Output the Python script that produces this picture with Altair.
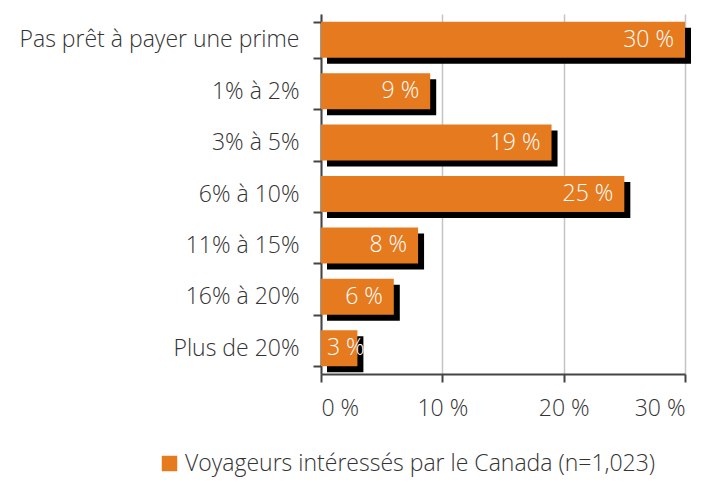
import altair as alt
import pandas as pd

categories = ["Pas prêt à payer une prime", "1% à 2%", "3% à 5%", "6% à 10%",
              "11% à 15%", "16% à 20%", "Plus de 20%"]
values = [30, 9, 19, 25, 8, 6, 3]
labels = ["30 %", "9 %", "19 %", "25 %", "8 %", "6 %", "3 %"]
series = "Voyageurs intéressés par le Canada (n=1,023)"

df = pd.DataFrame({"cat": categories, "val": values, "lab": labels, "series": series})

FONT = "Open Sans"
FW = 300
FS = 23
y_enc = alt.Y("cat:N", sort=categories, title=None,
              scale=alt.Scale(paddingInner=0.3, paddingOuter=0.15),
              axis=alt.Axis(tickBand="extent", tickSize=8, labelPadding=14,
                            labelFontSize=FS, labelFont=FONT, labelFontWeight=FW,
                            labelColor="#333333", domainColor="#444444", domainWidth=2,
                            tickColor="#444444", tickWidth=2, labelLimit=400))
x_enc = alt.X("val:Q", title=None,
              scale=alt.Scale(domain=[0, 30], nice=False),
              axis=alt.Axis(values=[0, 10, 20, 30], tickSize=8, labelPadding=15,
                            labelExpr="datum.value + ' %'",
                            labelFontSize=FS, labelFont=FONT, labelFontWeight=FW,
                            labelColor="#333333", domainColor="#444444", domainWidth=2,
                            tickColor="#444444", tickWidth=2,
                            grid=True, gridColor="#c4c4c4", gridWidth=1.5))

shadow = alt.Chart(df).mark_bar(color="black", xOffset=6, yOffset=6).encode(x=x_enc, y=y_enc)
bars = alt.Chart(df).mark_bar().encode(
    x=x_enc, y=y_enc,
    color=alt.Color("series:N", scale=alt.Scale(range=["#e57a1e"]),
                    legend=alt.Legend(title=None, orient="none", legendX=-163, legendY=438,
                                      symbolType="square", symbolSize=240,
                                      symbolStrokeWidth=0, symbolOpacity=1,
                                      labelFontSize=FS, labelFont=FONT, labelFontWeight=FW,
                                      labelColor="#333333", labelLimit=600))
)
text = alt.Chart(df).transform_calculate(
    lx="max(datum.val, 4.5)"
).mark_text(align="right", dx=-11, color="white", fontSize=FS,
            font=FONT, fontWeight=FW).encode(
    x=alt.X("lx:Q", scale=alt.Scale(domain=[0, 30], nice=False)),
    y=alt.Y("cat:N", sort=categories), text="lab:N")

chart = alt.layer(shadow, bars, text).properties(
    width=364, height=360,
    autosize=alt.AutoSizeParams(type="none"),
    padding={"left": 313, "top": 6, "right": 19, "bottom": 103},
).configure_view(stroke=None).configure_axisY(grid=False)

chart.save("out.html", embed_options={"renderer": "svg", "actions": False})
